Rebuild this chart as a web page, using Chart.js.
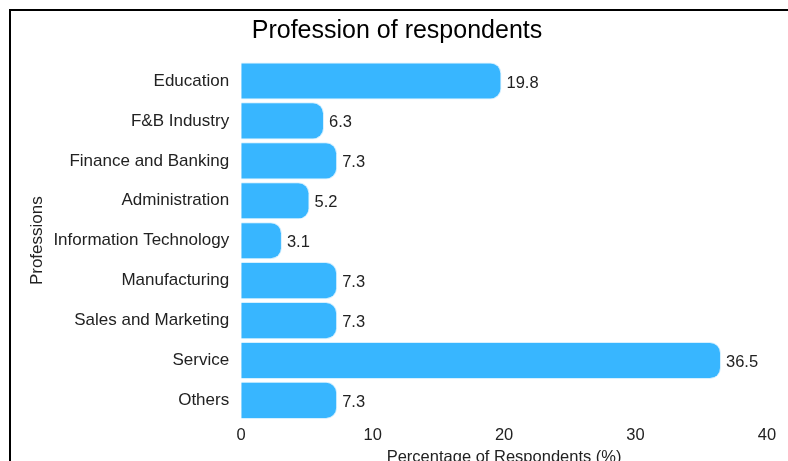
<!DOCTYPE html>
<html>
<head>
<meta charset="utf-8">
<script src="https://cdn.jsdelivr.net/npm/chart.js@4"></script>
<style>
  html, body { margin: 0; padding: 0; background: #fff; overflow: hidden; }
  #frame { position: absolute; left: 9px; top: 9px; width: 782px; height: 470px; border: 2px solid #000; }
  #frame canvas { display: block; }
</style>
</head>
<body>
<div id="frame"><canvas id="myChart" width="782" height="456"></canvas></div>
<script>
var professions = ['Education', 'F&B Industry', 'Finance and Banking', 'Administration',
    'Information Technology', 'Manufacturing', 'Sales and Marketing', 'Service', 'Others'];
var percentages = [19.8, 6.3, 7.3, 5.2, 3.1, 7.3, 7.3, 36.5, 7.3];
var xTicks = [0, 10, 20, 30, 40];

// draw the value at the end of each bar
var valueLabels = {
    id: 'valueLabels',
    afterDatasetsDraw: function(chart) {
        var ctx = chart.ctx;
        var meta = chart.getDatasetMeta(0);
        ctx.save();
        ctx.font = '16.5px "Liberation Sans", Arial, sans-serif';
        ctx.fillStyle = '#222';
        ctx.textAlign = 'left';
        ctx.textBaseline = 'middle';
        meta.data.forEach(function(bar, i) {
            ctx.fillText(String(percentages[i]), bar.x + 5, bar.y + 2);
        });
        ctx.restore();
    }
};

window.onload = function() {
    Chart.defaults.font.family = '"Liberation Sans", Arial, sans-serif';
    Chart.defaults.color = '#222';
    var ctx = document.getElementById('myChart').getContext('2d');
    window.myBar = new Chart(ctx, {
        type: 'bar',
        data: {
            labels: professions,
            datasets: [{
                label: 'Percentage',
                data: percentages,
                backgroundColor: '#38b6ff',
                borderColor: 'rgba(210,238,255,0.9)',
                borderWidth: 1,
                borderRadius: 11,
                borderSkipped: 'start',
                categoryPercentage: 1,
                barPercentage: 0.93
            }]
        },
        options: {
            indexAxis: 'y',
            responsive: false,
            animation: false,
            layout: { padding: { left: 16, right: 26, top: 0, bottom: 0 } },
            plugins: {
                legend: { display: false },
                tooltip: { enabled: false },
                title: {
                    display: true,
                    text: 'Profession of respondents',
                    color: '#000',
                    font: { size: 25, weight: 'normal' },
                    padding: { top: 5, bottom: 15 }
                }
            },
            scales: {
                x: {
                    min: 0,
                    max: 40,
                    afterBuildTicks: function(axis) {
                        axis.ticks = xTicks.map(function(v) { return { value: v }; });
                    },
                    grid: { display: false, drawTicks: false },
                    border: { display: false },
                    ticks: { font: { size: 16.5 }, padding: 5 },
                    title: {
                        display: true,
                        text: 'Percentage of Respondents (%)',
                        font: { size: 16.5 },
                        padding: { top: -3, bottom: 0 }
                    }
                },
                y: {
                    grid: { display: false, drawTicks: false },
                    border: { display: false },
                    ticks: { font: { size: 17 }, padding: 12 },
                    title: {
                        display: true,
                        text: 'Professions',
                        font: { size: 17 },
                        padding: { top: 0, bottom: -6 }
                    }
                }
            }
        },
        plugins: [valueLabels]
    });
};
</script>
</body>
</html>
